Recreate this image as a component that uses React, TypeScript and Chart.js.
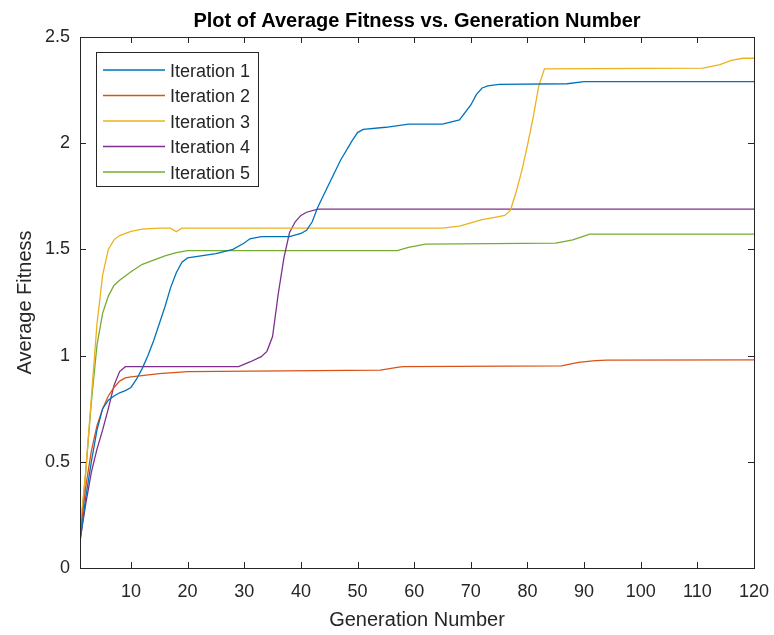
import React, { useEffect, useRef } from "react";
import { Chart, registerables } from "chart.js";

Chart.register(...registerables);

const chartTitle = "Plot of Average Fitness vs. Generation Number";
const xAxisTitle = "Generation Number";
const yAxisTitle = "Average Fitness";

const seriesLabels = ["Iteration 1", "Iteration 2", "Iteration 3", "Iteration 4", "Iteration 5"];
const seriesColors = ["#0072BD", "#D95319", "#EDB120", "#7E2F8E", "#77AC30"];

const iter1Gen = [1, 2, 3, 4, 5, 6, 7, 8, 9, 10, 11, 12, 13, 14, 15, 16, 17, 18, 19, 20, 25, 28, 30, 31, 33, 38, 40, 41, 42, 43, 45, 47, 49, 50, 51, 55, 59, 65, 68, 70, 71, 72, 73, 75, 87, 90, 120];
const iter1Fit = [0.12, 0.33, 0.5, 0.65, 0.75, 0.79, 0.81, 0.825, 0.835, 0.85, 0.89, 0.94, 1.0, 1.07, 1.15, 1.23, 1.32, 1.39, 1.44, 1.46, 1.48, 1.5, 1.53, 1.55, 1.56, 1.56, 1.575, 1.59, 1.63, 1.7, 1.81, 1.92, 2.01, 2.05, 2.065, 2.075, 2.09, 2.09, 2.11, 2.18, 2.23, 2.26, 2.27, 2.277, 2.28, 2.29, 2.29];

const iter2Gen = [1, 2, 3, 4, 5, 6, 7, 8, 9, 10, 15, 20, 54, 57, 58, 86, 89, 92, 94, 120];
const iter2Fit = [0.15, 0.38, 0.55, 0.67, 0.75, 0.81, 0.85, 0.88, 0.895, 0.9, 0.915, 0.925, 0.932, 0.945, 0.948, 0.952, 0.968, 0.976, 0.979, 0.98];

const iter3Gen = [1, 2, 3, 4, 5, 6, 7, 8, 10, 12, 15, 17, 18, 19, 65, 68, 70, 72, 74, 76, 77, 78, 79, 80, 81, 82, 83, 111, 114, 116, 118, 120];
const iter3Fit = [0.17, 0.45, 0.8, 1.15, 1.38, 1.5, 1.545, 1.565, 1.585, 1.595, 1.6, 1.6, 1.583, 1.6, 1.6, 1.61, 1.625, 1.64, 1.65, 1.66, 1.685, 1.77, 1.87, 1.99, 2.12, 2.27, 2.35, 2.353, 2.37, 2.39, 2.4, 2.4];

const iter4Gen = [1, 2, 3, 4, 5, 6, 7, 8, 9, 29, 31, 33, 34, 35, 36, 37, 38, 39, 40, 41, 43, 120];
const iter4Fit = [0.13, 0.3, 0.45, 0.56, 0.65, 0.75, 0.86, 0.925, 0.948, 0.948, 0.97, 0.995, 1.02, 1.09, 1.29, 1.46, 1.58, 1.63, 1.66, 1.675, 1.69, 1.69];

const iter5Gen = [1, 2, 3, 4, 5, 6, 7, 8, 10, 12, 14, 16, 18, 20, 57, 59, 62, 85, 88, 91, 120];
const iter5Fit = [0.15, 0.45, 0.78, 1.05, 1.2, 1.28, 1.33, 1.355, 1.395, 1.43, 1.45, 1.47, 1.485, 1.494, 1.494, 1.51, 1.525, 1.53, 1.545, 1.572, 1.572];

const seriesGens = [iter1Gen, iter2Gen, iter3Gen, iter4Gen, iter5Gen];
const seriesFits = [iter1Fit, iter2Fit, iter3Fit, iter4Fit, iter5Fit];

const xTickValues = [10, 20, 30, 40, 50, 60, 70, 80, 90, 100, 110, 120];
const yTickValues = [0, 0.5, 1, 1.5, 2, 2.5];

const FONT = "Arial, 'Liberation Sans', Helvetica, sans-serif";
const TEXT = "#262626";
const AXIS = "#262626";

const matlabPlugin = {
  id: "matlabFrame",
  afterDatasetsDraw(chart: any) {
    const { ctx, chartArea } = chart;
    const { left, right, top, bottom } = chartArea;
    const xs = chart.scales.x;
    const ys = chart.scales.y;
    ctx.save();
    ctx.strokeStyle = AXIS;
    ctx.lineWidth = 1;
    ctx.strokeRect(Math.round(left) + 0.5, Math.round(top) + 0.5, Math.round(right - left), Math.round(bottom - top));
    const tl = 6;
    ctx.beginPath();
    xTickValues.forEach((v) => {
      const px = Math.round(xs.getPixelForValue(v)) + 0.5;
      ctx.moveTo(px, bottom);
      ctx.lineTo(px, bottom - tl);
      ctx.moveTo(px, top);
      ctx.lineTo(px, top + tl);
    });
    yTickValues.forEach((v) => {
      const py = Math.round(ys.getPixelForValue(v)) + 0.5;
      ctx.moveTo(left, py);
      ctx.lineTo(left + tl, py);
      ctx.moveTo(right, py);
      ctx.lineTo(right - tl, py);
    });
    ctx.stroke();

    const lx = Math.round(left) + 16;
    const ly = Math.round(top) + 15;
    const lw = 162;
    const lh = 134;
    ctx.fillStyle = "#ffffff";
    ctx.fillRect(lx, ly, lw, lh);
    ctx.strokeStyle = AXIS;
    ctx.strokeRect(lx + 0.5, ly + 0.5, lw, lh);
    ctx.font = `18px ${FONT}`;
    ctx.textAlign = "left";
    ctx.textBaseline = "alphabetic";
    chart.data.datasets.forEach((ds: any, i: number) => {
      const cy = ly + 18 + i * 25.5;
      ctx.strokeStyle = ds.borderColor;
      ctx.lineWidth = 1.3;
      ctx.beginPath();
      ctx.moveTo(lx + 7, cy);
      ctx.lineTo(lx + 69, cy);
      ctx.stroke();
      ctx.fillStyle = TEXT;
      ctx.fillText(ds.label, lx + 74, cy + 6.5);
    });

    ctx.fillStyle = "#000000";
    ctx.font = `bold 20px ${FONT}`;
    ctx.textAlign = "center";
    ctx.fillText(chartTitle, (left + right) / 2, 27);
    ctx.restore();
  },
};

export default function App() {
  const canvasRef = useRef<HTMLCanvasElement | null>(null);

  useEffect(() => {
    const canvas = canvasRef.current;
    if (!canvas) return;
    const datasets = seriesLabels.map((label, i) => ({
      label,
      data: seriesGens[i].map((g, j) => ({ x: g, y: seriesFits[i][j] })),
      borderColor: seriesColors[i],
      backgroundColor: seriesColors[i],
      borderWidth: 1.3,
      pointRadius: 0,
      tension: 0,
      fill: false,
    }));
    const chart = new Chart(canvas, {
      type: "line",
      data: { datasets },
      options: {
        responsive: false,
        animation: false,
        devicePixelRatio: 1,
        layout: { padding: { top: 37, right: 20, left: 0, bottom: 0 } },
        plugins: {
          legend: { display: false },
          title: { display: false },
          tooltip: { enabled: false },
        },
        scales: {
          x: {
            type: "linear",
            min: 1,
            max: 120,
            afterBuildTicks: (s: any) => {
              s.ticks = xTickValues.map((v) => ({ value: v }));
            },
            afterFit: (s: any) => {
              s.height = 67;
              s.paddingLeft = 0;
              s.paddingRight = 0;
            },
            grid: { display: false, drawTicks: false },
            border: { display: false },
            ticks: {
              autoSkip: false,
              maxRotation: 0,
              padding: 13,
              color: TEXT,
              font: { family: FONT, size: 18 },
              callback: (v: any) => `${v}`,
            },
            title: {
              display: true,
              text: xAxisTitle,
              color: TEXT,
              font: { family: FONT, size: 20 },
              padding: { top: 0, bottom: 3 },
            },
          },
          y: {
            type: "linear",
            min: 0,
            max: 2.5,
            afterBuildTicks: (s: any) => {
              s.ticks = yTickValues.map((v) => ({ value: v }));
            },
            afterFit: (s: any) => {
              s.width = 80;
              s.paddingTop = 0;
              s.paddingBottom = 0;
            },
            grid: { display: false, drawTicks: false },
            border: { display: false },
            ticks: {
              padding: 10,
              color: TEXT,
              font: { family: FONT, size: 18 },
              callback: (v: any) => `${v}`,
            },
            title: {
              display: true,
              text: yAxisTitle,
              color: TEXT,
              font: { family: FONT, size: 20 },
              padding: { top: 13, bottom: 0 },
            },
          },
        },
      },
      plugins: [matlabPlugin],
    } as any);
    return () => chart.destroy();
  }, []);

  return (
    <div style={{ position: "fixed", left: 0, top: 0, width: 774, height: 635, background: "#ffffff" }}>
      <canvas ref={canvasRef} width={774} height={635} style={{ width: 774, height: 635, display: "block" }} />
    </div>
  );
}
